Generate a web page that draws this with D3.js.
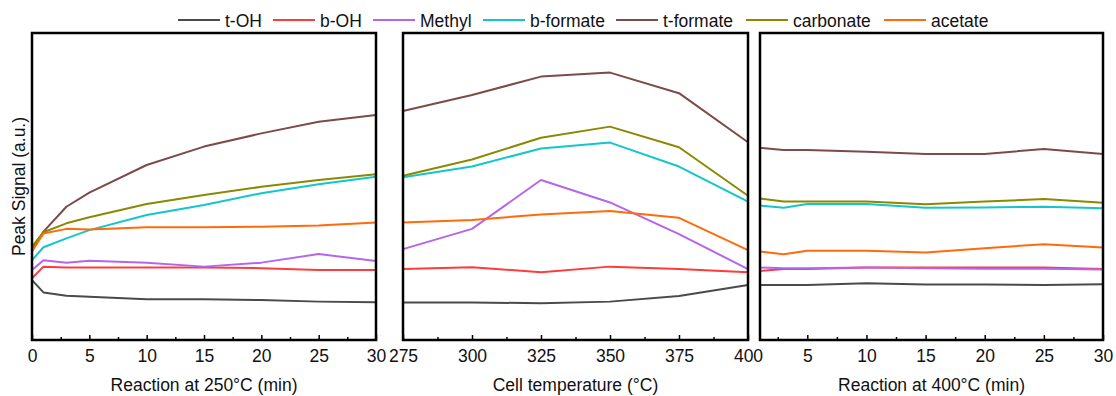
<!DOCTYPE html>
<html>
<head>
<meta charset="utf-8">
<script src="https://cdn.jsdelivr.net/npm/d3@7"></script>
<style>
  html, body { margin: 0; padding: 0; background: #fff; }
  svg { display: block; font-family: "Liberation Sans", Arial, sans-serif; }
</style>
</head>
<body>
<svg id="chart" width="1116" height="396"></svg>
<script>
// Species names and line colours
const species = ["t-OH", "b-OH", "Methyl", "b-formate", "t-formate", "carbonate", "acetate"];
const colors = ["#4a4a4a", "#ff3b3b", "#b565ec", "#12c6cc", "#7d4a4a", "#8a8a00", "#ff6a0a"];

// Panel 1: reaction at 250 °C (min)
const time250 = [0, 1, 3, 5, 10, 15, 20, 25, 30];
const tOH250 = [19.5, 15.5, 14.4, 14.1, 13.3, 13.3, 13.0, 12.5, 12.3];
const bOH250 = [20.1, 23.9, 23.6, 23.6, 23.6, 23.6, 23.4, 22.8, 22.8];
const methyl250 = [22.8, 26.0, 25.2, 25.8, 25.2, 23.9, 25.2, 28.0, 25.7];
const bFormate250 = [26.0, 30.2, 33.1, 35.8, 40.7, 44.0, 47.8, 50.7, 53.2];
const tFormate250 = [29.3, 35.3, 43.4, 48.0, 57.0, 63.0, 67.3, 71.1, 73.3];
const carbonate250 = [30.4, 35.1, 38.0, 40.0, 44.3, 47.2, 49.9, 52.1, 54.0];
const acetate250 = [28.8, 34.7, 36.2, 36.0, 36.7, 36.7, 36.9, 37.3, 38.3];

// Panel 2: cell temperature (°C)
const temps = [275, 300, 325, 350, 375, 400];
const tOHTemp = [12.2, 12.2, 12.0, 12.5, 14.3, 17.9];
const bOHTemp = [23.1, 23.7, 22.1, 23.9, 23.1, 22.1];
const methylTemp = [29.6, 36.2, 52.1, 44.8, 34.5, 23.1];
const bFormateTemp = [53.0, 56.5, 62.4, 64.3, 56.5, 45.1];
const tFormateTemp = [74.6, 79.8, 85.8, 87.1, 80.4, 64.4];
const carbonateTemp = [53.5, 58.8, 65.9, 69.5, 62.8, 47.0];
const acetateTemp = [38.3, 39.1, 40.9, 42.0, 39.8, 29.3];

// Panel 3: reaction at 400 °C (min)
const time400 = [1, 3, 5, 10, 15, 20, 25, 30];
const tOH400 = [17.9, 17.9, 17.9, 18.5, 18.1, 18.1, 17.9, 18.2];
const bOH400 = [22.5, 23.1, 23.1, 23.6, 23.6, 23.6, 23.6, 23.1];
const methyl400 = [23.6, 23.4, 23.4, 23.6, 23.4, 23.2, 23.2, 23.0];
const bFormate400 = [43.8, 43.1, 44.3, 44.3, 43.1, 43.2, 43.4, 42.9];
const tFormate400 = [62.6, 61.9, 61.9, 61.3, 60.6, 60.6, 62.2, 60.6];
const carbonate400 = [46.1, 45.1, 45.1, 45.1, 44.2, 45.1, 45.9, 44.7];
const acetate400 = [28.8, 27.9, 29.1, 29.1, 28.5, 29.9, 31.2, 30.1];

// Tick values for each x axis
const ticks250 = [0, 5, 10, 15, 20, 25, 30];
const ticksTemp = [275, 300, 325, 350, 375, 400];
const ticks400 = [5, 10, 15, 20, 25, 30];

const FONT = 17.5;

const panels = [
  { x0: 32, x1: 376, domain: [0, 30], xs: time250, ticks: ticks250, minorStep: 2.5,
    series: [tOH250, bOH250, methyl250, bFormate250, tFormate250, carbonate250, acetate250],
    title: "Reaction at 250°C (min)" },
  { x0: 403, x1: 748, domain: [275, 400], xs: temps, ticks: ticksTemp, minorStep: 12.5,
    series: [tOHTemp, bOHTemp, methylTemp, bFormateTemp, tFormateTemp, carbonateTemp, acetateTemp],
    title: "Cell temperature (°C)" },
  { x0: 760, x1: 1103, domain: [1, 30], xs: time400, ticks: ticks400, minorStep: 2.5,
    series: [tOH400, bOH400, methyl400, bFormate400, tFormate400, carbonate400, acetate400],
    title: "Reaction at 400°C (min)" }
];

const svg = d3.select("#chart");
const plotTop = 33, plotBottom = 340;
const y = d3.scaleLinear().domain([0, 100]).range([plotBottom, plotTop]);

panels.forEach(p => {
  const x = d3.scaleLinear().domain(p.domain).range([p.x0, p.x1]);
  const g = svg.append("g");

  const line = d3.line().x(d => x(d[0])).y(d => y(d[1]));
  p.series.forEach((vals, i) => {
    g.append("path")
      .datum(p.xs.map((v, k) => [v, vals[k]]))
      .attr("d", line)
      .attr("fill", "none")
      .attr("stroke", colors[i])
      .attr("stroke-width", 2)
      .attr("stroke-linejoin", "round");
  });

  // minor ticks (inward)
  const minor = d3.range(Math.ceil(p.domain[0] / p.minorStep) * p.minorStep, p.domain[1] + 1e-9, p.minorStep)
    .filter(v => !p.ticks.includes(v) && v > p.domain[0] && v < p.domain[1]);
  g.append("g").attr("transform", `translate(0,${plotBottom})`)
    .call(d3.axisBottom(x).tickValues(minor).tickSize(-3).tickFormat(""))
    .call(a => a.select(".domain").remove())
    .call(a => a.selectAll("line").attr("stroke", "#000").attr("stroke-width", 1.5));

  // major ticks (inward) with labels
  g.append("g").attr("transform", `translate(0,${plotBottom})`)
    .call(d3.axisBottom(x).tickValues(p.ticks).tickSize(-5).tickPadding(10).tickFormat(d3.format("d")))
    .call(a => a.select(".domain").remove())
    .call(a => a.selectAll("line").attr("stroke", "#000").attr("stroke-width", 1.5))
    .call(a => a.selectAll("text").attr("font-size", FONT).attr("fill", "#111")
      .attr("font-family", "'Liberation Sans', Arial, sans-serif").attr("dy", "0.71em"));

  // frame
  g.append("rect")
    .attr("x", p.x0).attr("y", plotTop)
    .attr("width", p.x1 - p.x0).attr("height", plotBottom - plotTop)
    .attr("fill", "none").attr("stroke", "#000").attr("stroke-width", 2.5);

  // x title
  g.append("text")
    .attr("x", (p.x0 + p.x1) / 2).attr("y", 391)
    .attr("text-anchor", "middle").attr("font-size", FONT).attr("fill", "#111")
    .text(p.title);
});

// y title
svg.append("text")
  .attr("transform", `translate(24.5,${(plotTop + plotBottom) / 2}) rotate(-90)`)
  .attr("text-anchor", "middle").attr("font-size", FONT).attr("fill", "#111")
  .text("Peak Signal (a.u.)");

// legend
const legendX = [178, 273, 373, 483, 616, 746, 884];
const lg = svg.append("g");
species.forEach((name, i) => {
  const item = lg.append("g").attr("transform", `translate(${legendX[i]},20)`);
  item.append("line").attr("x1", 0).attr("x2", 42).attr("y1", 0).attr("y2", 0)
    .attr("stroke", colors[i]).attr("stroke-width", 2);
  item.append("text").attr("x", 47).attr("y", 6.5).attr("font-size", FONT).attr("fill", "#111")
    .text(name);
});
</script>
</body>
</html>
